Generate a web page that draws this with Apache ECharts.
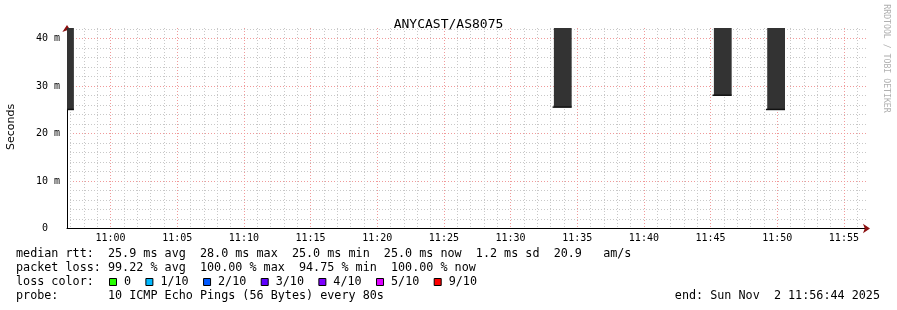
<!DOCTYPE html>
<html><head><meta charset="utf-8">
<script src="https://cdn.jsdelivr.net/npm/echarts@6/dist/echarts.min.js"></script>
<style>html,body{margin:0;padding:0;background:#fff}#c{width:897px;height:310px}</style>
</head><body><div id="c"></div>
<script>
// ---------- data ----------
const chartTitle = 'ANYCAST/AS8075';
const axisStart = '10:56:44';
const axisEnd = '11:56:44';
const minuteTicks = ['10:57','10:58','10:59','11:00','11:01','11:02','11:03','11:04','11:05','11:06','11:07','11:08','11:09','11:10','11:11','11:12','11:13','11:14','11:15','11:16','11:17','11:18','11:19','11:20','11:21','11:22','11:23','11:24','11:25','11:26','11:27','11:28','11:29','11:30','11:31','11:32','11:33','11:34','11:35','11:36','11:37','11:38','11:39','11:40','11:41','11:42','11:43','11:44','11:45','11:46','11:47','11:48','11:49','11:50','11:51','11:52','11:53','11:54','11:55','11:56'];
const majorTicks = ['11:00','11:05','11:10','11:15','11:20','11:25','11:30','11:35','11:40','11:45','11:50','11:55'];
const yMax = 42.2; // ms
// smoke bars (80 s steps)
const stepStart = ['10:55:55','11:33:15','11:45:15','11:49:15'];
const stepEnd   = ['10:57:15','11:34:35','11:46:35','11:50:35'];
const smokeLow  = [25.0, 25.5, 28.0, 25.0];   // ms
const smokeHigh = [45.0, 45.0, 45.0, 45.0];   // ms (clipped above chart top)
const medianRtt = [25.0, 25.5, 28.0, 25.0];   // ms
const lossLabels = ['0','1/10','2/10','3/10','4/10','5/10','9/10'];
const lossColors = ['#26ff00','#00b8ff','#0059ff','#5e00ff','#7e00ff','#dd00ff','#ff0000'];
const legendLines = [
  'median rtt:  25.9 ms avg  28.0 ms max  25.0 ms min  25.0 ms now  1.2 ms sd  20.9   am/s',
  'packet loss: 99.22 % avg  100.00 % max  94.75 % min  100.00 % now',
  'loss color:',
  'probe:       10 ICMP Echo Pings (56 Bytes) every 80s'
];
const endText = 'end: Sun Nov  2 11:56:44 2025';
const watermark = 'RRDTOOL / TOBI OETIKER';
const yName = 'Seconds';

// ---------- helpers ----------
function sec(s){const p=s.split(':').map(Number);return p[0]*3600+p[1]*60+(p[2]||0);}
function hhmm(v){const h=Math.floor(v/3600),m=Math.floor((v%3600)/60);return h+':'+String(m).padStart(2,'0');}

const mono = '"DejaVu Sans Mono", monospace';
const GL = 67, GR = 867, GT = 28, GB = 228.5;
const W = 897, H = 310;

const data = stepStart.map((s,i)=>[sec(s), sec(stepEnd[i]), smokeLow[i], smokeHigh[i], medianRtt[i]]);

const chart = echarts.init(document.getElementById('c'), null, {renderer:'canvas'});

// legend graphics
const graphics = [];
const lineY = [254, 268, 282, 296];
const legendFont = '11.75px ' + mono;
legendLines.forEach((t,i)=>{
  graphics.push({type:'text', x:16, y:lineY[i], style:{text:t, font:legendFont, fill:'#000', verticalAlign:'middle', align:'left'}});
});
let cx = 109;
lossLabels.forEach((lab,i)=>{
  graphics.push({type:'rect', shape:{x:cx+0.5, y:278.5, width:7, height:7}, style:{fill:lossColors[i], stroke:'#000', lineWidth:1}});
  const tx = cx + 15;
  graphics.push({type:'text', x:tx, y:282, style:{text:lab, font:legendFont, fill:'#000', verticalAlign:'middle'}});
  cx = tx + lab.length*7.09 + 14.3;
});
graphics.push({type:'text', x:880, y:296, style:{text:endText, font:legendFont, fill:'#000', verticalAlign:'middle', align:'right'}});
graphics.push({type:'text', x:11, y:127, rotation:Math.PI/2, style:{text:yName, font:'11px "DejaVu Sans", sans-serif', fill:'#000', verticalAlign:'middle', align:'center'}});
graphics.push({type:'text', x:886, y:58.5, rotation:-Math.PI/2, style:{text:watermark, font:'8.2px ' + mono, fill:'#b0b0b0', verticalAlign:'middle', align:'center'}});

const minorLine = {show:true, lineStyle:{color:'#c8c8c8', width:1, type:[1,2]}};
const majorLine = {show:true, lineStyle:{color:'#f09a9a', width:1, type:[1,2]}};

const option = {
  animation:false,
  backgroundColor:'#fff',
  title:{text:chartTitle, left:'center', top:13, textStyle:{fontFamily:mono, fontSize:13, fontWeight:'normal', color:'#000'}},
  grid:{left:GL, right:W-GR, top:GT, bottom:H-GB},
  xAxis:[
    {type:'value', position:'bottom', min:sec(axisStart), max:sec(axisEnd),
     axisLine:{show:true, lineStyle:{color:'#000', width:1}},
     axisTick:{show:false, customValues:minuteTicks.map(sec)},
     axisLabel:{show:false},
     splitLine:minorLine},
    {type:'value', position:'bottom', min:sec(axisStart), max:sec(axisEnd),
     axisLine:{show:true, symbol:['none','arrow'], symbolSize:[7,7], symbolOffset:[0,3], lineStyle:{color:'#8b1010', width:0}},
     axisTick:{show:false, customValues:majorTicks.map(sec)},
     axisLabel:{show:true, customValues:majorTicks.map(sec), formatter:hhmm, fontFamily:mono, fontSize:10, color:'#000', margin:5},
     splitLine:majorLine}
  ],
  yAxis:[
    {type:'value', position:'left', min:0, max:yMax, interval:2,
     axisLine:{show:true, lineStyle:{color:'#000', width:1}},
     axisTick:{show:false}, axisLabel:{show:false},
     splitLine:Object.assign({showMinLine:false, showMaxLine:false}, minorLine)},
    {type:'value', position:'left', min:0, max:yMax, interval:10,
     axisLine:{show:true, symbol:['none','arrow'], symbolSize:[7,7], symbolOffset:[0,3], lineStyle:{color:'#8b1010', width:0}},
     axisTick:{show:false},
     axisLabel:{show:true, fontFamily:mono, fontSize:10, color:'#000', margin:7,
       formatter:v=> v===0 ? '0  ' : (v%10===0 ? v+' m' : '')},
     splitLine:Object.assign({showMinLine:false, showMaxLine:false}, majorLine)}
  ],
  series:[{
    type:'custom', xAxisIndex:0, yAxisIndex:0, data:data,
    renderItem:function(params, api){
      const cs = params.coordSys;
      const clip = {x:cs.x, y:cs.y, width:cs.width, height:cs.height};
      const a = api.coord([api.value(0), api.value(3)]);
      const b = api.coord([api.value(1), api.value(2)]);
      const m = api.coord([api.value(0), api.value(4)]);
      const smoke = echarts.graphic.clipRectByRect({x:a[0], y:a[1], width:b[0]-a[0], height:b[1]-a[1]}, clip);
      const med = echarts.graphic.clipRectByRect({x:m[0]-1.3, y:m[1]-1, width:b[0]-m[0]+1.3, height:1.5}, clip);
      const children = [];
      if (smoke) children.push({type:'rect', shape:smoke, style:{fill:'#333333'}});
      if (med) children.push({type:'rect', shape:med, style:{fill:'#111111'}});
      return {type:'group', children:children};
    }
  }],
  graphic:graphics
};
chart.setOption(option);
</script>
</body></html>
